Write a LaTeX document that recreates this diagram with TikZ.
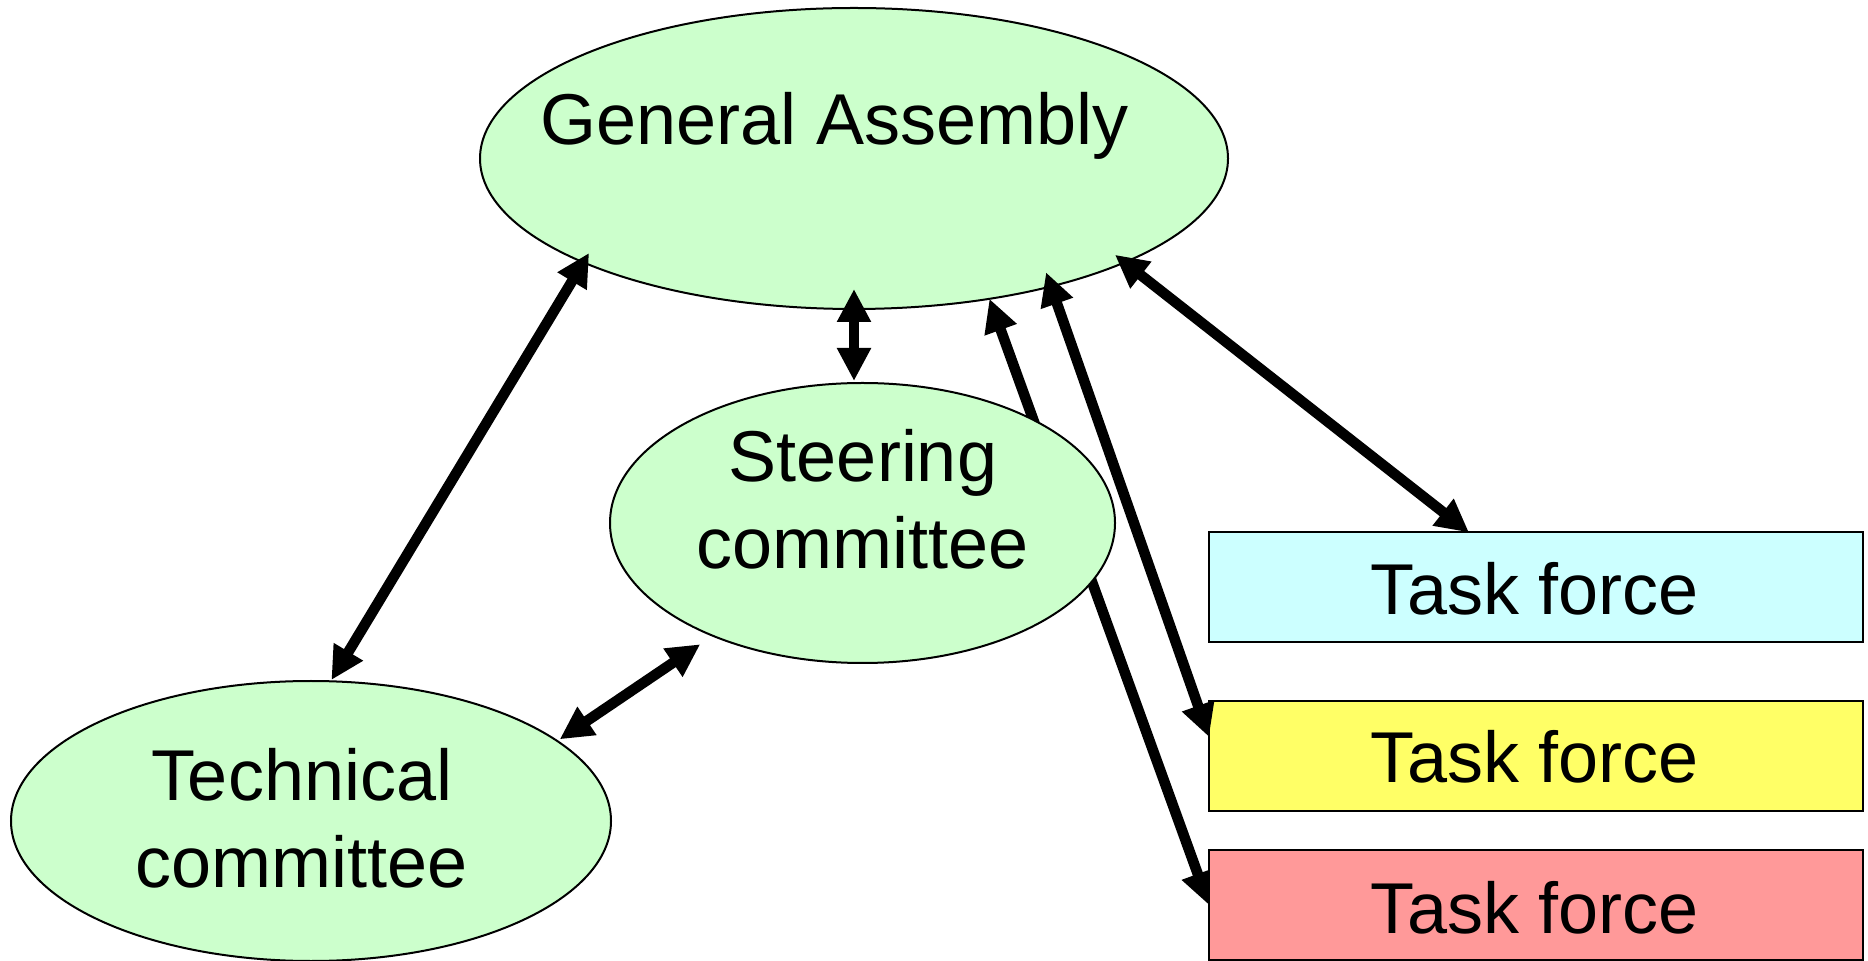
\documentclass[tikz,border=0pt]{standalone}
\usepackage{fontspec}
\setmainfont{Liberation Sans}
\usetikzlibrary{arrows.meta,shapes.geometric,calc}
\pgfdeclarelayer{back}
\pgfsetlayers{back,main}

\definecolor{bodyfill}{HTML}{CCFFCC}
\definecolor{tfcyan}{HTML}{CCFFFF}
\definecolor{tfyellow}{HTML}{FFFF66}
\definecolor{tfred}{HTML}{FF9999}

\begin{document}
\begin{tikzpicture}[x=0.5pt,y=-0.5pt,
  body/.style={ellipse, draw=black, line width=1pt, fill=bodyfill,
    inner sep=0pt, outer sep=0pt},
  taskbox/.style={rectangle, draw=black, line width=1pt, inner sep=0pt,
    outer sep=0pt, minimum width=327pt, minimum height=55pt},
  caption/.style={anchor=base, inner sep=0pt,
    font=\fontsize{36}{43}\selectfont},
  link/.style={line width=5.25pt,
    {Triangle[length=16.5pt,width=16pt]}-{Triangle[length=16.5pt,width=16pt]}}
]
\useasboundingbox (0,0) rectangle (1868,961);

% bodies
\node[body, minimum width=374pt, minimum height=150.5pt] (ga) at (854,158.5) {};
\node[body, minimum width=300pt, minimum height=140pt] (tc) at (311,821) {};

% task forces
\node[taskbox, fill=tfcyan]   (tf1) at (1536,587.5) {};
\node[taskbox, fill=tfyellow] (tf2) at (1536,756) {};
\node[taskbox, fill=tfred]    (tf3) at (1536,905) {};

\node[caption] (tf1t) at (1535,615) {Task force};
\node[caption] (tf2t) at (1535,783) {Task force};
\node[caption] (tf3t) at (1535,933) {Task force};

% steering committee sits above the long link to the last task force
\node[body, minimum width=252.5pt, minimum height=140pt] (sc) at (862.5,523) {};

\begin{pgfonlayer}{back}
  \draw[link] (ga.314.9) -- (tf3.west);
\end{pgfonlayer}

% links
\draw[link, shorten <=-5.5pt, shorten >=0.75pt] (ga.201.4) -- (tc.82.6);
\draw[link, shorten <=-10pt, shorten >=1pt] (ga.south) -- (ga.south |- sc.north);
\draw[link, shorten <=7.6pt, shorten >=1.5pt] (sc.217.85) -- (tc.18.77);
\draw[link, shorten <=-6.15pt] (ga.339.6) -- ($(tf1.north west)!0.3976!(tf1.north east)$);
\draw[link, shorten <=-7.5pt] (ga.327.2) -- ($(tf2.north west)!0.327!(tf2.south west)$);

% labels
\node[caption] (gat) at (834.5,145) {General Assembly};
\node[caption] (sct1) at (863,482) {Steering};
\node[caption] (sct2) at (863,569) {committee};
\node[caption] (tct1) at (302,800) {Technical};
\node[caption] (tct2) at (302,887) {committee};
\end{tikzpicture}
\end{document}
